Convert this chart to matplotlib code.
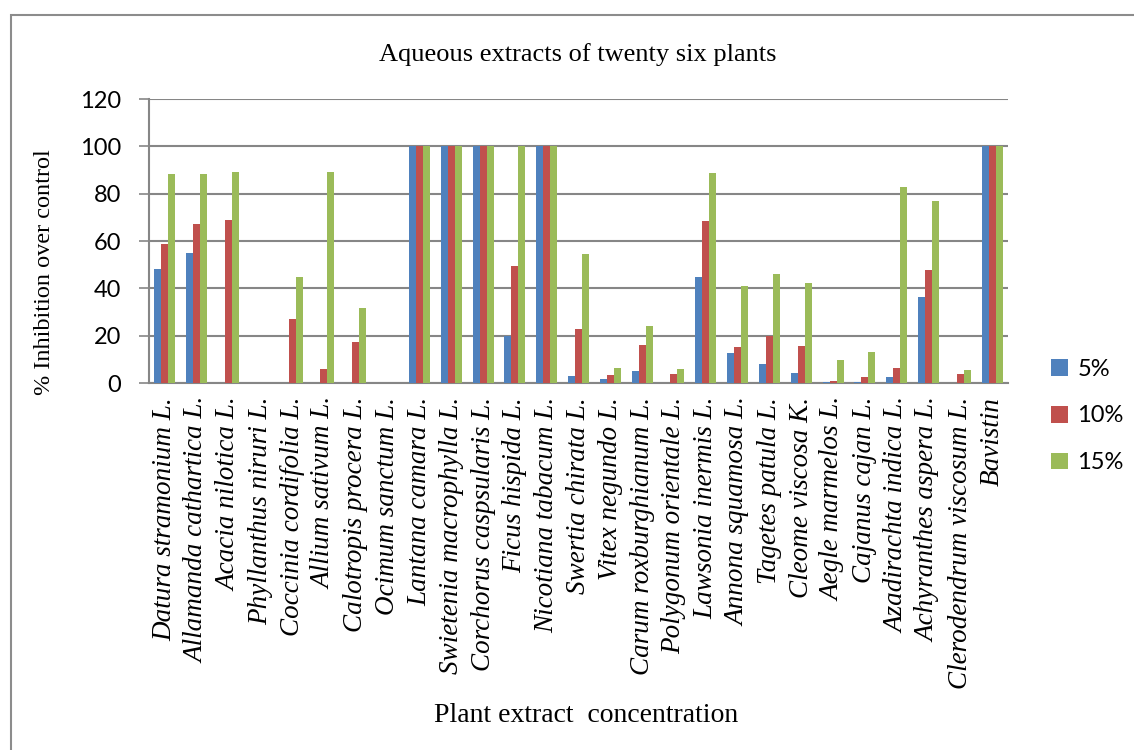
import matplotlib
matplotlib.use("Agg")
import matplotlib.pyplot as plt
import numpy as np
from matplotlib.patches import Rectangle

plants = [
    "Datura stramonium L.", "Allamanda cathartica L.", "Acacia nilotica L.",
    "Phyllanthus niruri L.", "Coccinia cordifolia L.", "Allium sativum L.",
    "Calotropis procera L.", "Ocimum sanctum L.", "Lantana camara L.",
    "Swietenia macrophylla L.", "Corchorus caspsularis L.", "Ficus hispida L.",
    "Nicotiana tabacum L.", "Swertia chirata L.", "Vitex negundo L.",
    "Carum roxburghianum L.", "Polygonum orientale L.", "Lawsonia inermis L.",
    "Annona squamosa L.", "Tagetes patula L.", "Cleome viscosa K.",
    "Aegle marmelos L.", "Cajanus cajan L.", "Azadirachta indica L.",
    "Achyranthes aspera L.", "Clerodendrum viscosum L.", "Bavistin",
]
conc_5 = [48, 55, 0, 0, 0, 0, 0, 0, 100, 100, 100, 20, 100, 2.9, 1.7, 5.1,
          0, 44.8, 12.7, 8.2, 4.1, 0.6, 0.6, 2.7, 36.5, 0, 100]
conc_10 = [58.7, 67, 68.7, 0, 27, 6, 17.5, 0, 100, 100, 100, 49.3, 100, 23,
           3.2, 15.9, 3.6, 68.5, 15.2, 20, 15.5, 1.0, 2.7, 6.2, 47.9, 3.6, 100]
conc_15 = [88.5, 88.5, 89.2, 0, 44.6, 89.2, 31.6, 0, 100, 100, 100, 100, 100,
           54.6, 6.2, 24.1, 5.9, 88.8, 40.8, 46.2, 42.1, 9.8, 13.2, 83.0, 76.8,
           5.4, 100]
series_labels = ["5%", "10%", "15%"]
colors = ["#4F81BD", "#C0504D", "#9BBB59"]
yticks = [0, 20, 40, 60, 80, 100, 120]

W, H = 1134, 750
fig = plt.figure(figsize=(W / 100, H / 100), dpi=100)

# chart frame (left and top edges visible)
fig.patches.append(Rectangle((11 / W, -0.1), 1.2, 1 - 15 / H + 0.1,
                             transform=fig.transFigure, fill=False,
                             edgecolor="#8c8c8c", linewidth=1.5))

ax = fig.add_axes([149 / W, 1 - 383 / H, (1008 - 149) / W, (383 - 99) / H])

x = np.arange(len(plants))
bw = 0.22
for i, (vals, lab, c) in enumerate(zip([conc_5, conc_10, conc_15],
                                       series_labels, colors)):
    ax.bar(x + (i - 1) * bw, vals, width=bw, color=c, label=lab,
           linewidth=0, zorder=3)

ax.set_xlim(-0.5, len(plants) - 0.5)
ax.set_ylim(0, 120)
ax.set_yticks(yticks)
ax.yaxis.grid(True, color="#868686", linewidth=1.5, zorder=0)
ax.set_axisbelow(True)
for s in ["top", "right"]:
    ax.spines[s].set_visible(False)
for s in ["left", "bottom"]:
    ax.spines[s].set_color("#868686")
    ax.spines[s].set_linewidth(1.5)
ax.tick_params(axis="y", direction="out", length=7, width=1.2,
               color="#868686", labelsize=17, pad=13)
ax.set_yticklabels([str(v) for v in yticks], family="Lato")

ax.set_xticks(x)
ax.set_xticklabels(plants, rotation=90, fontsize=19.5,
                   family="Liberation Serif", style="italic", va="top")
ax.tick_params(axis="x", length=0, pad=10)

fig.text(45 / W, 1 - 272 / H, "% Inhibition over control",
         family="Liberation Serif", fontsize=17.5, ha="center", va="center",
         rotation=90)
fig.text(578 / W, 1 - 55 / H, "Aqueous extracts of twenty six plants",
         family="Liberation Serif", fontsize=19, ha="center", va="center")
fig.text(586 / W, 1 - 716 / H, "Plant extract  concentration",
         family="Liberation Serif", fontsize=20, ha="center", va="center")

leg = fig.legend(loc="center left", bbox_to_anchor=(1030 / W, 1 - 416 / H),
                 frameon=False, prop={"family": "Lato", "size": 17},
                 handlelength=0.7, handleheight=0.7, handletextpad=0.4,
                 labelspacing=1.1)

fig.savefig("out.png", dpi=100)
